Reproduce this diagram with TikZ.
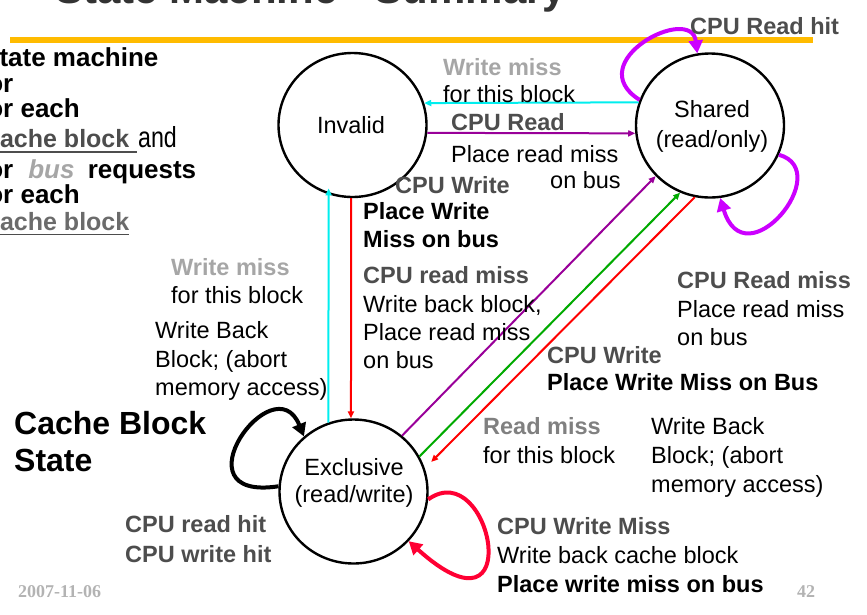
\documentclass[tikz,border=0pt]{standalone}
\usepackage{fontspec}
\usepackage{graphicx}
\setmainfont{Liberation Sans}
\newfontfamily\footfont{Liberation Serif}
\usetikzlibrary{arrows.meta,shapes.geometric}

\definecolor{cyanc}{RGB}{0,238,238}
\definecolor{purpc}{RGB}{153,0,153}
\definecolor{greenc}{RGB}{0,170,0}
\definecolor{redc}{RGB}{255,0,0}
\definecolor{magc}{RGB}{204,0,255}
\definecolor{crimc}{RGB}{255,0,51}
\definecolor{dgray}{RGB}{77,77,77}
\definecolor{mgray}{RGB}{128,128,128}
\definecolor{lgray}{RGB}{166,166,166}
\definecolor{ugray}{RGB}{107,107,107}
\definecolor{titlegray}{RGB}{51,51,51}
\definecolor{footgray}{RGB}{179,179,179}
\definecolor{goldc}{RGB}{255,187,0}

\begin{document}
\begin{tikzpicture}[x=1pt,y=-1pt,
  txt/.style={anchor=base west,inner sep=0pt,font=\fontsize{23.5}{28}\selectfont},
  bld/.style={txt,font=\fontsize{23.5}{28}\selectfont\bfseries},
  hd/.style={bld,text=dgray},
  lhd/.style={bld,text=lgray},
  mhd/.style={bld,text=mgray},
  side/.style={anchor=base west,inner sep=0pt,font=\fontsize{26}{28}\selectfont\bfseries},
  state/.style={ellipse,draw,line width=2.4pt,minimum width=148pt,minimum height=144pt,inner sep=0pt},
  sname/.style={anchor=base,inner sep=0pt,font=\fontsize{23.5}{28}\selectfont},
  thin/.style={line width=2pt,-{Triangle[length=7pt,width=6pt]}},
  loop/.style={line width=4pt,-{Triangle[length=13pt,width=14pt]}},
  foot/.style={anchor=base west,inner sep=0pt,font=\footfont\fontsize{18}{20}\selectfont\bfseries,text=footgray}
]
\useasboundingbox (0,0) rectangle (867,614);
\clip (0,0) rectangle (867,614);

% title and rule
\node[anchor=base west,inner sep=0pt,font=\fontsize{42}{46}\selectfont\bfseries,text=titlegray] (title) at (55,3) {State Machine - Summary};
\draw[goldc,line width=3.4pt] (10,39) -- (813,39);
\draw[goldc,line width=1.3pt] (10,42) -- (813,42);

% side text
\node[side] (s1) at (-18,66) {State machine};
\node[side] (s2) at (-21.5,92) {for};
\node[side] (s3) at (-21.5,117) {for each};
\node[side,font=\fontsize{25}{28}\selectfont\bfseries,text=dgray] (s4) at (-14,147) {cache block};
\draw[dgray,line width=1.5pt] (-14,152) -- (137,152);
\node[txt,font=\fontsize{29}{30}\selectfont] (s4b) at (138,147) {\scalebox{0.8}[1]{and}};
\node[side] (s5) at (-21.5,178) {for\hspace{15pt}\textcolor{lgray}{\itshape bus}\hspace{6pt} requests};
\node[side] (s6) at (-21.5,203) {for each};
\node[side,font=\fontsize{25}{28}\selectfont\bfseries,text=ugray] (s7) at (-14,230) {cache block};
\draw[dgray,line width=1.5pt] (-14,234.5) -- (129,234.5);

% states
\node[state] (inv) at (352.5,125) {};
\node[state] (shr) at (710,125.5) {};
\node[state] (exc) at (353.5,491.5) {};
\node[sname] (invname) at (351,133) {Invalid};
\node[sname] (shrname1) at (712,117) {Shared};
\node[sname] (shrname2) at (712,147) {(read/only)};
\node[sname] (excname1) at (354,475) {Exclusive};
\node[sname] (excname2) at (354,502) {(read/write)};

% transitions between states
\draw[thin,cyanc] (shr.162.5) -- (inv.17.5);
\draw[thin,purpc] (inv.-6.3) -- (shr.186.3);
\draw[thin,cyanc,shorten >=-6pt] (exc.110.4) -- (inv.-109.2);
\draw[thin,redc] (inv.-91.6) -- (exc.92.7);
\draw[thin,purpc] (exc.49.8) -- (shr.-137.1);
\draw[thin,greenc] (exc.28.5) -- (shr.-114.2);
\draw[thin,redc,shorten >=9pt] (shr.-102) -- (exc.18.4);

% self loops
\draw[loop,magc] (shr.160.3) .. controls +(-60,-38) and +(-6,-50) .. (shr.100.5);
\draw[loop,magc] (shr.-23.8) .. controls +(57,16) and +(25,83) .. (shr.-82);
\draw[loop,black] (exc.176.5) .. controls +(-105,16) and +(-30,-74) .. (exc.132.8);
\draw[loop,crimc] (exc.-6.5) .. controls +(63,-45) and +(120,108) .. (exc.-42.2);

% labels: Shared <-> Invalid
\node[hd] (l0) at (690,34) {CPU Read hit};
\node[lhd] (l1) at (443,75) {Write miss};
\node[txt] (l2) at (443,102) {for this block};
\node[hd] (l3) at (451,130) {CPU Read};
\node[txt] (l4) at (451,162) {Place read miss};
\node[txt] (l5) at (550,188) {on bus};

% labels: Invalid <-> Exclusive
\node[hd] (l6) at (395,193) {CPU Write};
\node[bld] (l7) at (363,219) {Place Write};
\node[bld] (l8) at (363,247) {Miss on bus};
\node[hd] (l9) at (363,283) {CPU read miss};
\node[txt] (l10) at (363,312) {Write back block,};
\node[txt] (l11) at (363,340) {Place read miss};
\node[txt] (l12) at (363,368) {on bus};
\node[lhd] (l13) at (171,275) {Write miss};
\node[txt] (l14) at (171,303) {for this block};
\node[txt] (l15) at (155,338) {Write Back};
\node[txt] (l16) at (155,367) {Block; (abort};
\node[txt] (l17) at (155,395) {memory access)};

% labels: Shared <-> Exclusive
\node[hd] (l18) at (677,288) {CPU Read miss};
\node[txt] (l19) at (677,317) {Place read miss};
\node[txt] (l20) at (677,345) {on bus};
\node[hd] (l21) at (547,363) {CPU Write};
\node[bld] (l22) at (547,390) {Place Write Miss on Bus};
\node[mhd] (l23) at (483,434) {Read miss};
\node[txt] (l24) at (483,463) {for this block};
\node[txt] (l25) at (651,434) {Write Back};
\node[txt] (l26) at (651,463) {Block; (abort};
\node[txt] (l27) at (651,492) {memory access)};

% labels: Exclusive loops
\node[hd] (l28) at (497,534) {CPU Write Miss};
\node[txt] (l29) at (497,563) {Write back cache block};
\node[bld] (l30) at (497,592) {Place write miss on bus};
\node[hd] (l31) at (125,532) {CPU read hit};
\node[hd] (l32) at (125,562) {CPU write hit};

% caption
\node[anchor=base west,inner sep=0pt,font=\fontsize{32}{36}\selectfont\bfseries] (cap1) at (14,434) {Cache Block};
\node[anchor=base west,inner sep=0pt,font=\fontsize{32}{36}\selectfont\bfseries] (cap2) at (14,471) {State};

% footer
\node[foot] (date) at (18,597) {2007-11-06};
\node[foot] (page) at (797,597) {42};
\end{tikzpicture}
\end{document}
